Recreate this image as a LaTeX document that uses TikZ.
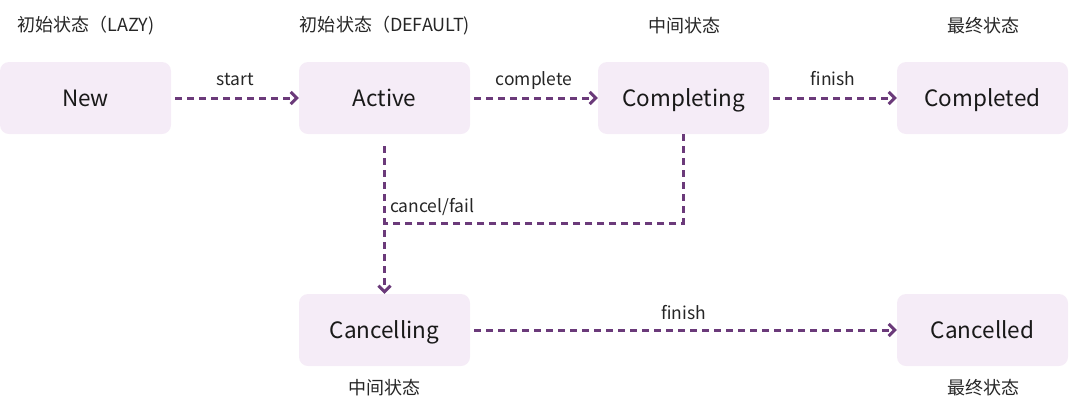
\documentclass[tikz,border=0pt]{standalone}
\usepackage{fontspec}
\setmainfont{Noto Sans CJK SC}
\usetikzlibrary{arrows.meta}
\definecolor{boxfill}{HTML}{F5ECF7}
\definecolor{arrowc}{HTML}{6B3A7A}
\tikzset{
  state/.style={fill=boxfill, rounded corners=9pt, minimum width=171pt, minimum height=72pt, inner sep=0pt, font=\fontsize{22.5}{26}\selectfont, text=black!90, text height=16pt, text depth=0pt},
  tag/.style={font=\fontsize{18}{21}\selectfont, text=black!85, inner sep=0pt},
  elabel/.style={font=\fontsize{17.5}{20}\selectfont, text=black!85, inner sep=0pt, text height=13pt, text depth=4pt},
  flow/.style={draw=arrowc, line width=3pt, dash pattern=on 7pt off 5pt},
  tip/.style={-{Straight Barb[length=6pt,width=12pt,line width=3pt]}},
}
\begin{document}
\begin{tikzpicture}[x=1pt,y=-1pt]
\useasboundingbox (0,0) rectangle (1075,408);
\node[state] (new) at (85.5,98) {New};
\node[state] (active) at (384.5,98) {Active};
\node[state] (completing) at (683.5,98) {Completing};
\node[state] (completed) at (982.5,98) {Completed};
\node[state] (cancelling) at (384.5,330) {Cancelling};
\node[state] (cancelled) at (982.5,330) {Cancelled};

\node[tag] (t1) at (86,26) {初始状态（LAZY)};
\node[tag] (t2) at (385,26) {初始状态（DEFAULT)};
\node[tag] (t3) at (684,26) {中间状态};
\node[tag] (t4) at (983,26) {最终状态};
\node[tag] (t5) at (384,388) {中间状态};
\node[tag] (t6) at (983,388) {最终状态};

\draw[flow,tip,shorten <=4pt] (new) -- node[elabel,above=7pt]{start} (active);
\draw[flow,tip,shorten <=4pt] (active) -- node[elabel,above=7pt]{complete} (completing);
\draw[flow,tip,shorten <=4pt] (completing) -- node[elabel,above=7pt]{finish} (completed);
\draw[flow,tip,shorten <=4pt] (cancelling) -- node[elabel,above=5.5pt]{finish} (cancelled);

\coordinate (corner) at (completing.south |- 0,223);
\coordinate (join) at (active.south |- 0,223);
\draw[flow,tip,shorten <=12pt] (active.south) -- (cancelling.north);
\draw[flow] (completing.south) -- (corner) -- (join);
\node[elabel,anchor=west] (cf) at (390,207.5) {cancel/fail};
\end{tikzpicture}
\end{document}
